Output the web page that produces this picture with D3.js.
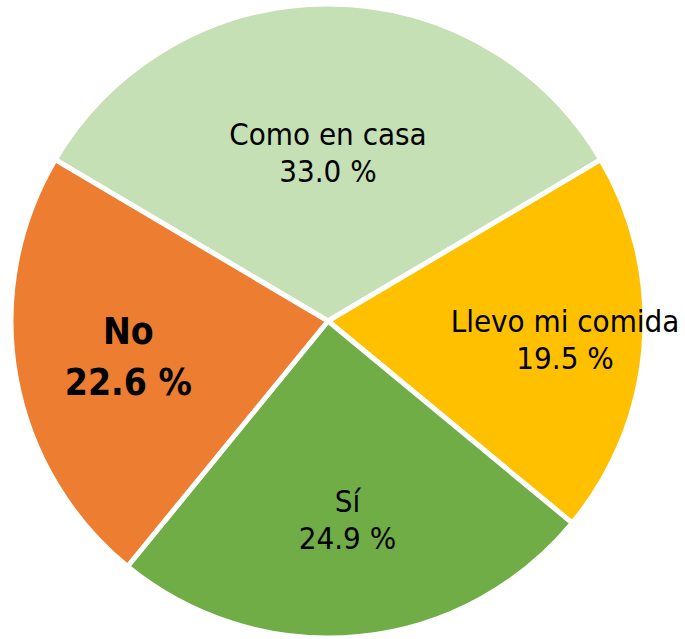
<!DOCTYPE html>
<meta charset="utf-8">
<style>
body { margin: 0; background: #fff; }
svg { display: block; }
.lbl { font-family: 'DejaVu Sans Condensed', 'DejaVu Sans', sans-serif; fill: #000; text-anchor: middle; }
</style>
<svg width="685" height="639"></svg>
<script src="https://d3js.org/d3.v7.min.js"></script>
<script>

var categories = ["Como en casa", "Llevo mi comida", "Sí", "No"],
    values = [33.0, 19.5, 24.9, 22.6],
    colors = ["#c5e0b4", "#ffc000", "#70ad47", "#ed7d31"];

// where each label sits, as a fraction of the radius (layout only)
var labelRadius = [0.53, 0.75, 0.63, 0.64],
    bold = [false, false, false, true];

var svg = d3.select("svg"),
    radius = 317,
    g = svg.append("g").attr("transform", "translate(328,321)");

var start = -values[0] / 100 * Math.PI;

var pie = d3.pie()
    .sort(null)
    .startAngle(start)
    .endAngle(start + 2 * Math.PI)
    .value(function(d) { return d; });

var arcs = pie(values);

var arc = d3.arc().innerRadius(0).outerRadius(radius);

g.selectAll("path")
  .data(arcs)
  .enter().append("path")
    .attr("d", arc)
    .style("fill", function(d, i) { return colors[i]; })
    .style("stroke", "#fff")
    .style("stroke-width", 5)
    .style("stroke-linejoin", "round");

var label = g.selectAll("text")
  .data(arcs)
  .enter().append("text")
    .attr("class", "lbl")
    .attr("transform", function(d, i) {
      var a = (d.startAngle + d.endAngle) / 2,
          r = radius * labelRadius[i];
      return "translate(" + (Math.sin(a) * r) + "," + (-Math.cos(a) * r) + ")";
    })
    .style("font-size", function(d, i) { return bold[i] ? "37px" : "31px"; })
    .style("font-weight", function(d, i) { return bold[i] ? "bold" : "normal"; });

label.append("tspan")
    .attr("x", 0)
    .attr("dy", function(d, i) { return bold[i] ? "-0.35em" : "-0.25em"; })
    .text(function(d, i) { return categories[i]; });

label.append("tspan")
    .attr("x", 0)
    .attr("dy", function(d, i) { return bold[i] ? "1.4em" : "1.2em"; })
    .text(function(d, i) { return values[i].toFixed(1) + " %"; });

</script>
